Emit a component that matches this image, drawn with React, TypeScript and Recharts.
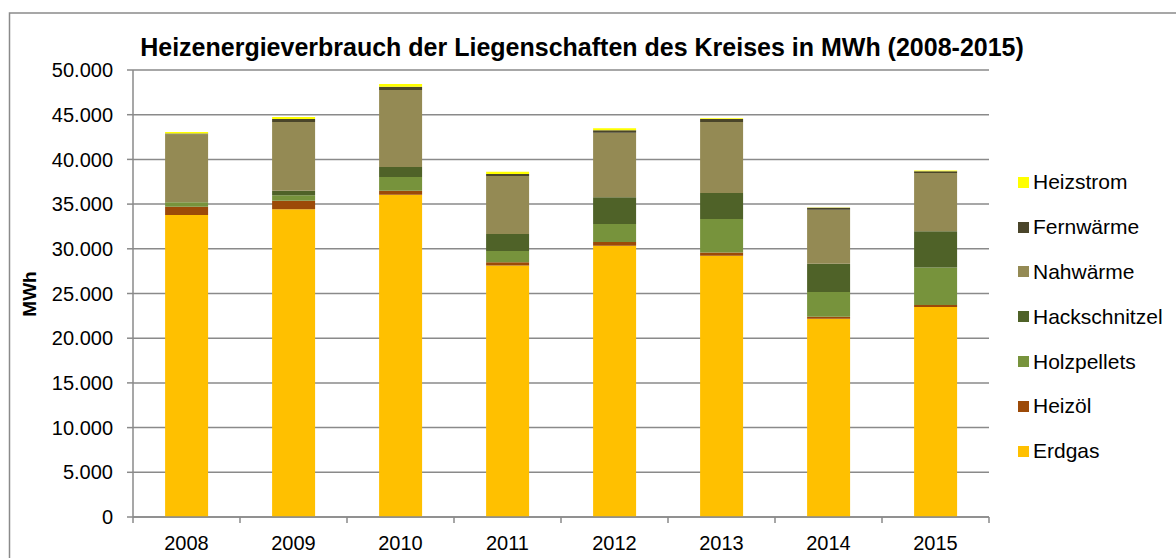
import React from 'react';
import { BarChart, Bar, XAxis, YAxis, CartesianGrid } from 'recharts';

const years = ['2008', '2009', '2010', '2011', '2012', '2013', '2014', '2015'];
const erdgas = [33770, 34420, 36050, 28140, 30340, 29230, 22180, 23500];
const heizoel = [930, 960, 450, 360, 410, 370, 220, 200];
const holzpellets = [500, 600, 1530, 1250, 2020, 3730, 2770, 4200];
const hackschnitzel = [0, 520, 1120, 1900, 2990, 2910, 3160, 4060];
const nahwaerme = [7610, 7680, 8610, 6490, 7210, 7940, 6040, 6520];
const fernwaerme = [100, 340, 370, 230, 300, 340, 220, 200];
const heizstrom = [150, 220, 300, 250, 220, 80, 30, 80];
const yTicks = [0, 5000, 10000, 15000, 20000, 25000, 30000, 35000, 40000, 45000, 50000];

// stack order bottom -> top
const series = [
  { key: 'Erdgas', values: erdgas, color: '#FFC000' },
  { key: 'Heizöl', values: heizoel, color: '#9C4A08' },
  { key: 'Holzpellets', values: holzpellets, color: '#77933C' },
  { key: 'Hackschnitzel', values: hackschnitzel, color: '#4F6228' },
  { key: 'Nahwärme', values: nahwaerme, color: '#948A54' },
  { key: 'Fernwärme', values: fernwaerme, color: '#4A452A' },
  { key: 'Heizstrom', values: heizstrom, color: '#FFFF00' },
];

const data = years.map((year, i) => {
  const row: Record<string, string | number> = { year };
  series.forEach(s => {
    row[s.key] = s.values[i];
  });
  return row;
});

const FONT = '"Liberation Sans", Arial, sans-serif';
const GRID = '#8a8a8a';
const PLOT_LEFT = 133;
const PLOT_RIGHT = 989;
const PLOT_BOTTOM = 517;
const XAXIS_H = 30;
const BAND = (PLOT_RIGHT - PLOT_LEFT) / years.length;

const fmt = (v: number) => String(v).replace(/\B(?=(\d{3})+(?!\d))/g, '.');

function XTick(props: any) {
  const { x, y, payload, index } = props;
  const left = x - BAND / 2;
  return (
    <g>
      <line x1={left} y1={y - 6} x2={left} y2={y} stroke={GRID} strokeWidth={1.5} />
      {index === years.length - 1 && (
        <line x1={x + BAND / 2} y1={y - 6} x2={x + BAND / 2} y2={y} stroke={GRID} strokeWidth={1.5} />
      )}
      <text x={x} y={y + 27} textAnchor="middle" fontSize={20} fill="#000" fontFamily={FONT}>
        {payload.value}
      </text>
    </g>
  );
}

export default function App() {
  return (
    <div style={{ position: 'absolute', left: 0, top: 0, width: 1176, height: 558, overflow: 'hidden', background: '#fff', fontFamily: FONT }}>
      <svg width={1176} height={558} style={{ position: 'absolute', left: 0, top: 0 }}>
        <rect x={9.5} y={13} width={1300} height={700} fill="none" stroke={GRID} strokeWidth={1.5} />
        <text x={582} y={56} textAnchor="middle" fontSize={25} fontWeight="bold" fill="#000" fontFamily={FONT}>
          Heizenergieverbrauch der Liegenschaften des Kreises in MWh (2008-2015)
        </text>
        <text x={36} y={294} transform="rotate(-90 36 294)" textAnchor="middle" fontSize={19} fontWeight="bold" fill="#000" fontFamily={FONT}>
          MWh
        </text>
      </svg>
      <div style={{ position: 'absolute', left: 0, top: 0 }}>
        <BarChart
          width={1176}
          height={558}
          data={data}
          margin={{ top: 70, right: 1176 - PLOT_RIGHT, bottom: 558 - PLOT_BOTTOM - XAXIS_H, left: PLOT_LEFT - 60 }}
          barCategoryGap="30%"
        >
          <CartesianGrid vertical={false} stroke={GRID} strokeWidth={1.5} />
          <XAxis
            dataKey="year"
            height={XAXIS_H}
            axisLine={{ stroke: GRID, strokeWidth: 1.5 }}
            tickLine={false}
            tickSize={6}
            tickMargin={0}
            tick={<XTick />}
            interval={0}
          />
          <YAxis
            width={60}
            domain={[0, 50000]}
            ticks={yTicks}
            interval={0}
            tickFormatter={fmt}
            axisLine={{ stroke: GRID, strokeWidth: 1.5 }}
            tickLine={{ stroke: GRID, strokeWidth: 1.5 }}
            tickSize={6}
            tickMargin={14}
            tick={{ fontSize: 20, fill: '#000', fontFamily: FONT }}
          />
          {series.map(s => (
            <Bar key={s.key} dataKey={s.key} stackId="a" fill={s.color} isAnimationActive={false} />
          ))}
        </BarChart>
      </div>
      <div style={{ position: 'absolute', left: 1018, top: 160 }}>
        {[...series].reverse().map(s => (
          <div key={s.key} style={{ display: 'flex', alignItems: 'center', height: 44.8, fontSize: 21, color: '#000' }}>
            <span style={{ display: 'inline-block', width: 11, height: 11, background: s.color, marginRight: 4 }} />
            <span>{s.key}</span>
          </div>
        ))}
      </div>
    </div>
  );
}
